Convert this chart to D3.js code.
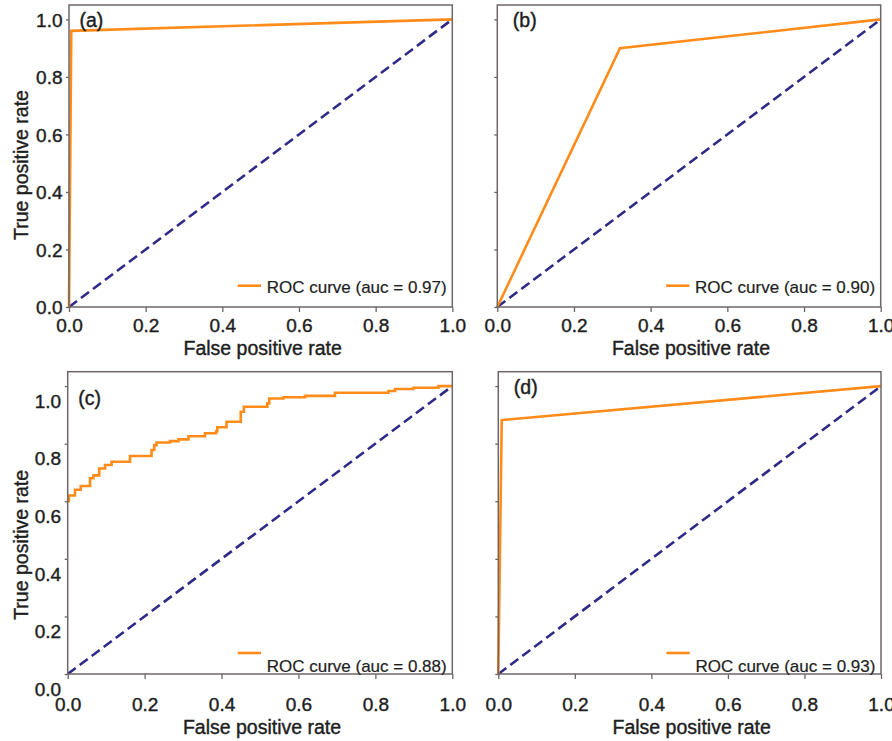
<!DOCTYPE html>
<html>
<head>
<meta charset="utf-8">
<script src="https://cdn.jsdelivr.net/npm/d3@7"></script>
<style>
  body { margin: 0; background: #fff; }
  svg { display: block; font-family: "Liberation Sans", Arial, sans-serif; }
  .thick { stroke: #1e1e1e; stroke-width: 0.4px; }
  .thin { stroke: #1e1e1e; stroke-width: 0.2px; }
</style>
</head>
<body>
<svg id="chart" width="892" height="741"></svg>
<script>
// ---- data ----
const tickValues = [0, 0.2, 0.4, 0.6, 0.8, 1.0];
const panelLabels = ["(a)", "(b)", "(c)", "(d)"];
const aucValues = [0.97, 0.90, 0.88, 0.93];

const fprA = [0, 0.006, 1];
const tprA = [0, 0.960, 1];

const fprB = [0, 0.32, 1];
const tprB = [0, 0.90, 1];

const fprC = [0, 0.003, 0.019, 0.034, 0.058, 0.067, 0.082, 0.097, 0.114, 0.162, 0.218, 0.225, 0.231,
              0.266, 0.288, 0.314, 0.357, 0.386, 0.389, 0.413, 0.450, 0.458, 0.519, 0.524, 0.561,
              0.617, 0.695, 0.834, 0.851, 0.899, 0.964, 1.0];
const tprC = [0.600, 0.620, 0.640, 0.653, 0.680, 0.690, 0.714, 0.726, 0.737, 0.757, 0.778, 0.795, 0.804,
              0.809, 0.815, 0.826, 0.836, 0.843, 0.857, 0.876, 0.911, 0.928, 0.940, 0.957, 0.961,
              0.966, 0.977, 0.983, 0.990, 0.994, 1.000, 1.000];

const fprD = [0, 0.009, 1];
const tprD = [0, 0.882, 1];

const chanceFpr = [0, 1];
const chanceTpr = [0, 1];

// ---- layout ----
const panels = [
  {fpr: fprA, tpr: tprA, step: false, left: 69,   top: 5,     right: 452.3, bottom: 307, yLabels: true,  yDy: 6.7,  xTextY: 11.2, titleY: 355, legendUp: false},
  {fpr: fprB, tpr: tprB, step: false, left: 497.3, top: 5,    right: 880.7, bottom: 307, yLabels: false, yDy: 6.7,  xTextY: 11.2, titleY: 355, legendUp: false},
  {fpr: fprC, tpr: tprC, step: true,  left: 67.7, top: 371.7, right: 452.3, bottom: 674, yLabels: true,  yDy: 21.3, xTextY: 23.2, titleY: 734, legendUp: true},
  {fpr: fprD, tpr: tprD, step: false, left: 498.3, top: 371.7, right: 881,  bottom: 674, yLabels: false, yDy: 21.3, xTextY: 23.2, titleY: 734, legendUp: true}
];

const ORANGE = "#ff8c1a";
const NAVY = "#2f2a86";
const AXIS = "#6e6666";
const TEXT = "#1e1e1e";

const svg = d3.select("#chart");

panels.forEach((p, i) => {
  const x = d3.scaleLinear().domain([0, 1]).range([p.left, p.right]);
  const y = d3.scaleLinear().domain([0, 1.05]).range([p.bottom, p.top]);
  const g = svg.append("g");

  // chance diagonal
  const diag = d3.line().x((d, k) => x(chanceFpr[k])).y((d, k) => y(chanceTpr[k]));
  g.append("path").attr("d", diag(chanceFpr))
    .attr("fill", "none").attr("stroke", NAVY).attr("stroke-width", 2.6)
    .attr("stroke-dasharray", "10,5");

  // ROC curve
  const line = d3.line().x((d, k) => x(p.fpr[k])).y((d, k) => y(p.tpr[k]));
  if (p.step) line.curve(d3.curveStepAfter);
  g.append("path").attr("d", line(p.fpr))
    .attr("fill", "none").attr("stroke", ORANGE).attr("stroke-width", 2.6)
    .attr("stroke-linejoin", "miter");

  // box
  g.append("rect").attr("x", p.left).attr("y", p.top)
    .attr("width", p.right - p.left).attr("height", p.bottom - p.top)
    .attr("fill", "none").attr("stroke", AXIS).attr("stroke-width", 1.5);

  // y axis
  const yAxis = d3.axisLeft(y).tickValues(tickValues).tickSize(3).tickPadding(3.5)
    .tickFormat(p.yLabels ? d3.format(".1f") : () => "");
  const ya = g.append("g").attr("transform", `translate(${p.left},0)`).call(yAxis);
  ya.select(".domain").remove();
  ya.selectAll(".tick line").attr("stroke", AXIS).attr("stroke-width", 1.3);
  ya.selectAll(".tick text").attr("font-size", 19).attr("fill", TEXT).attr("class", "thick")
    .attr("font-family", "Liberation Sans, Arial, sans-serif")
    .attr("dy", p.yDy);

  // x axis
  const xAxis = d3.axisBottom(x).tickValues(tickValues).tickSize(5).tickFormat(d3.format(".1f"));
  const xa = g.append("g").attr("transform", `translate(0,${p.bottom})`).call(xAxis);
  xa.select(".domain").remove();
  xa.selectAll(".tick line").attr("stroke", AXIS).attr("stroke-width", 1.3);
  xa.selectAll(".tick text").attr("font-size", 19).attr("fill", TEXT).attr("class", "thick")
    .attr("font-family", "Liberation Sans, Arial, sans-serif")
    .attr("y", p.xTextY).attr("dy", "0.71em");

  // x title
  g.append("text").attr("x", (p.left + p.right) / 2 + 2).attr("y", p.titleY)
    .attr("text-anchor", "middle").attr("font-size", 19.5).attr("fill", TEXT).attr("class", "thick")
    .text("False positive rate");

  // y title
  if (p.yLabels) {
    const cy = (p.top + p.bottom) / 2 + (p.step ? 22 : 9);
    g.append("text").attr("transform", `translate(27.5,${cy}) rotate(-90)`)
      .attr("text-anchor", "middle").attr("font-size", 19.5).attr("fill", TEXT).attr("class", "thick")
      .text("True positive rate");
  }

  // panel label
  g.append("text").attr("x", p.left + (p.yLabels ? 10.5 : 15.5)).attr("y", p.top + (p.step ? 33.5 : 22))
    .attr("font-size", 19.5).attr("fill", TEXT).attr("class", "thick").text(panelLabels[i]);

  // legend
  const lineY = p.legendUp ? p.bottom - 21 : p.bottom - 21.3;
  const textY = p.legendUp ? p.bottom - 2 : p.bottom - 13.7;
  g.append("line").attr("x1", p.right - 214.6).attr("x2", p.right - 191.3)
    .attr("y1", lineY).attr("y2", lineY)
    .attr("stroke", ORANGE).attr("stroke-width", 2.6);
  g.append("text").attr("x", p.right - 5.6).attr("y", textY)
    .attr("text-anchor", "end").attr("font-size", 17).attr("fill", TEXT).attr("class", "thin")
    .text(`ROC curve (auc = ${aucValues[i].toFixed(2)})`);
});
</script>
</body>
</html>
